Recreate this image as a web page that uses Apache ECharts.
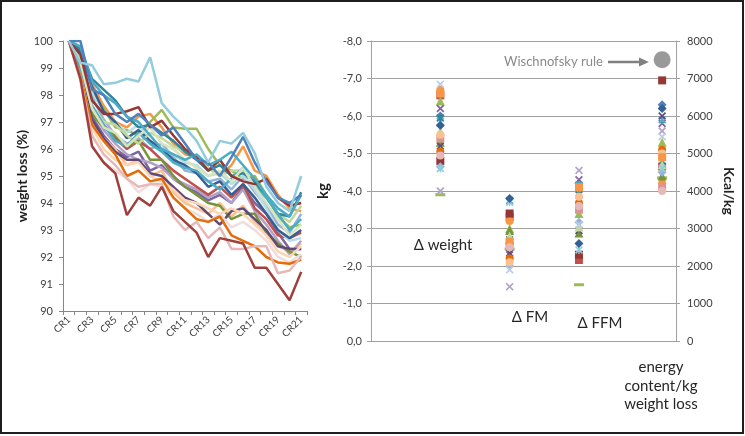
<!DOCTYPE html>
<html>
<head>
<meta charset="utf-8">
<script src="https://cdn.jsdelivr.net/npm/echarts@6/dist/echarts.min.js"></script>
<style>html,body{margin:0;padding:0;background:#fff;}#c{width:745px;height:436px;}</style>
</head>
<body>
<div id="c"></div>
<script>
// ---------- Left chart: weight loss (%) per CR ----------
const crCategories = ['CR1','CR2','CR3','CR4','CR5','CR6','CR7','CR8','CR9','CR10','CR11','CR12','CR13','CR14','CR15','CR16','CR17','CR18','CR19','CR20','CR21'];
const yTicksLeft = [90,91,92,93,94,95,96,97,98,99,100];

const line01 = [100,99.2,99.1,98.4,98.45,98.6,98.5,99.4,97.7,97.2,96.8,96.3,95.5,96.3,96.2,96.6,95.85,94.6,94.0,93.7,95.0];
const line02 = [100,98.6,96.1,95.5,95.1,93.55,94.2,93.9,94.6,93.7,93.3,92.9,92.0,92.7,92.6,92.5,91.6,91.6,91.0,90.4,91.45];
const line03 = [100,100,98.2,98.0,97.3,97.0,97.3,96.9,96.5,96.8,96.2,95.6,95.5,95.0,95.7,96.45,95.5,94.8,94.2,94.0,94.3];
const line04 = [100,99.3,98.4,97.6,97.0,96.8,97.2,97.3,96.8,96.2,95.8,95.7,95.3,95.0,95.4,96.1,95.2,95.0,94.3,93.8,93.7];
const line05 = [100,99.5,97.8,97.3,97.3,97.4,97.55,96.8,97.05,96.5,96.0,95.7,95.2,95.6,95.0,94.8,94.7,94.9,94.2,93.9,94.0];
const line06 = [100,99.4,98.0,97.5,96.8,96.7,96.5,97.0,97.45,96.8,96.75,96.75,96.0,95.4,95.2,94.9,95.0,94.3,93.5,93.1,93.2];
const line07 = [100,99.8,98.5,98.0,97.7,97.2,97.0,96.5,96.0,95.8,95.6,95.8,95.4,95.6,95.9,95.4,94.9,94.3,93.8,93.5,94.3];
const line08 = [100,99.0,97.6,96.9,96.3,96.1,96.6,96.2,95.9,95.5,95.3,95.2,94.8,94.5,94.9,95.3,94.6,94.2,93.6,93.0,93.4];
const line09 = [100,99.0,97.2,96.5,96.0,95.7,95.9,95.2,95.4,94.9,94.6,94.4,94.1,94.3,94.0,94.6,94.0,93.6,92.9,92.3,92.3];
const line10 = [100,99.2,97.5,96.8,96.6,96.1,96.5,96.8,96.2,96.0,95.6,95.3,95.0,95.2,94.8,95.3,94.6,94.0,93.4,92.8,93.2];
const line11 = [100,98.9,97.0,96.4,96.0,95.4,95.6,95.0,95.2,94.4,94.0,93.8,93.6,94.0,93.5,93.9,93.3,92.8,92.4,92.2,92.5];
const line12 = [100,98.7,96.9,96.3,95.8,95.0,95.2,94.8,94.9,94.2,93.8,93.4,93.3,93.5,92.8,92.6,92.4,92.0,91.8,91.75,91.9];
const line13 = [100,98.6,96.5,95.8,95.4,94.9,94.6,94.7,94.7,93.5,93.0,93.3,92.7,93.1,92.3,92.3,92.4,92.4,91.4,91.5,92.0];
const line14 = [100,99.4,97.9,97.1,96.5,96.2,96.4,96.0,96.2,95.7,95.2,95.1,94.8,94.9,94.5,95.0,94.4,93.9,93.2,92.9,93.6];
const line15 = [100,99.1,97.4,96.7,96.2,95.8,95.6,95.5,95.3,94.9,94.7,94.5,94.2,94.4,94.0,94.5,93.7,93.2,92.6,92.1,92.6];
const line16 = [100,99.0,97.6,96.9,96.4,96.0,96.3,96.0,95.6,95.2,94.9,94.6,94.3,94.6,94.2,94.7,93.8,93.4,92.8,92.7,92.9];
const line17 = [100,99.2,97.3,96.8,96.5,96.1,96.3,95.6,95.6,95.0,94.6,94.3,94.0,93.9,93.4,93.6,93.6,92.9,92.5,92.2,92.0];
const line18 = [100,99.5,98.1,97.4,97.0,96.6,96.9,96.3,96.0,95.8,95.5,95.4,95.0,95.1,94.7,95.0,94.5,93.8,93.0,92.6,92.7];
const line19 = [100,98.9,97.1,96.4,95.9,95.6,95.6,95.1,95.0,94.6,94.2,94.0,93.6,93.2,93.7,93.8,93.4,93.0,92.4,92.3,92.3];
const line20 = [100,99.6,98.3,97.4,97.0,96.4,96.7,96.3,96.0,95.6,95.4,95.1,94.6,94.8,94.3,94.7,94.2,93.6,93.0,92.7,93.0];
const line21 = [100,98.8,96.8,96.0,95.6,95.4,95.5,95.0,94.8,94.5,94.1,94.0,93.8,93.6,93.8,93.6,93.2,92.8,92.2,92.0,92.4];
const line22 = [100,98.5,96.1,95.5,95.2,94.9,94.4,94.7,94.6,94.2,93.8,93.6,93.3,93.6,93.1,93.3,93.0,92.6,92.0,91.8,92.1];
const line23 = [100,99.3,97.6,97.0,96.9,96.5,96.2,96.6,96.4,96.1,95.9,95.6,95.3,95.0,95.2,95.2,94.7,94.3,93.6,93.3,93.9];
const line24 = [100,99.7,98.6,98.2,97.8,97.2,96.8,96.9,96.6,96.3,95.9,95.6,95.2,95.4,95.0,95.1,94.8,94.2,93.6,93.5,94.4];
const allLines = [line04,line06,line09,line11,line14,line15,line16,line17,line18,line19,line20,line21,line22,line23,line24,line08,line10,line12,line13,line05,line07,line03,line02,line01];
const lineColors = ['#F79646','#9BBB59','#8064A2','#FAC090','#95B3D7','#B3A2C7','#C0504D','#77933C','#B7DEE8','#5F497A','#376092','#FCD5B5','#F2DCDB','#C3D69B','#31859C','#4BACC6','#D7E4BD','#E46C0A','#E6B9B8','#953735','#4BACC6','#4F81BD','#A0403C','#93CDDD'];

// ---------- Right chart: kg changes and energy content ----------
const kgTicks = [-8,-7,-6,-5,-4,-3,-2,-1,0];
const kcalTicks = [0,1000,2000,3000,4000,5000,6000,7000,8000];
const columnNames = ['Δ weight','Δ FM','Δ FFM','energy content/kg weight loss'];
const columnX = [1, 2, 3, 4.2];
const weightKg = [-6.0,-6.55,-6.4,-6.2,-5.85,-6.7,-3.9,-4.8,-5.3,-5.2,-5.95,-5.05,-4.65,-5.4,-5.6,-4.0,-4.6,-5.5,-5.75,-6.6,-4.95,-6.85];
const fmKg     = [-2.6,-3.3,-3.0,-2.3,-3.75,-3.2,-2.45,-3.4,-2.95,-2.35,-2.7,-2.2,-2.0,-2.55,-2.8,-1.45,-3.7,-2.1,-3.8,-2.65,-2.5,-1.9];
const ffmKg    = [-4.2,-2.16,-3.4,-4.3,-4.16,-4.03,-1.5,-2.3,-2.88,-2.95,-3.9,-3.68,-3.17,-3.5,-3.04,-4.55,-2.43,-3.85,-2.6,-4.1,-3.6,-3.1];
const energyKcal = [6300,4650,5300,5800,5900,4200,4350,6950,4400,6000,4800,5100,4500,4100,4700,5600,4600,5000,6200,4900,4000,5450];
const wishnofskyKcal = 7500;

const subjSymbols = ['diamond','rect','triangle','x','star','circle','dash','rect','triangle','x','star','circle','diamond','rect','triangle','x','star','circle','diamond','rect','circle','x'];
const subjColors  = ['#4F81BD','#C0504D','#9BBB59','#8064A2','#4BACC6','#F79646','#9BBB59','#953735','#77933C','#604A7B','#31859C','#E46C0A','#95B3D7','#D99694','#C3D69B','#B3A2C7','#93CDDD','#FAC090','#376092','#F79646','#E6B9B8','#B9CDE5'];

const X_PATH = 'path://M0,1.5L1.5,0L5,3.5L8.5,0L10,1.5L6.5,5L10,8.5L8.5,10L5,6.5L1.5,10L0,8.5L3.5,5Z';
const STAR_PATH = 'path://M0,1.5L1.5,0L5,3.5L8.5,0L10,1.5L6.5,5L10,8.5L8.5,10L5,6.5L1.5,10L0,8.5L3.5,5Z M4.2,0L5.8,0L5.8,10L4.2,10Z';
function symOf(s){
  if (s === 'x') return {symbol: X_PATH, symbolSize: 8};
  if (s === 'star') return {symbol: STAR_PATH, symbolSize: 8};
  if (s === 'dash') return {symbol: 'rect', symbolSize: [10,3]};
  if (s === 'triangle') return {symbol: 'triangle', symbolSize: 9};
  if (s === 'diamond') return {symbol: 'diamond', symbolSize: 9};
  return {symbol: s, symbolSize: 8};
}

const FONT = 'Lato, "Open Sans", sans-serif';
const series = [];
allLines.forEach((d, i) => {
  series.push({type:'line', xAxisIndex:0, yAxisIndex:0, data:d, symbol:'none', silent:true,
    lineStyle:{width:2.5, color:lineColors[i]}, z:2});
});
weightKg.forEach((w, i) => {
  const s = symOf(subjSymbols[i]);
  series.push(Object.assign({type:'scatter', xAxisIndex:1, yAxisIndex:1,
    data:[[columnX[0], w],[columnX[1], fmKg[i]],[columnX[2], ffmKg[i]]],
    itemStyle:{color:subjColors[i], opacity:1}, z:3}, s));
  series.push(Object.assign({type:'scatter', xAxisIndex:1, yAxisIndex:2,
    data:[[columnX[3], energyKcal[i]]],
    itemStyle:{color:subjColors[i], opacity:1}, z:3}, s));
});
series.push({type:'scatter', xAxisIndex:1, yAxisIndex:2, data:[[columnX[3], wishnofskyKcal]],
  symbol:'circle', symbolSize:17, itemStyle:{color:'#808080'}, z:3});

const labelStyle = {color:'#404040', fontSize:11, fontFamily:FONT};
const chart = echarts.init(document.getElementById('c'), null, {renderer:'canvas'});
chart.setOption({
  animation:false,
  backgroundColor:'#ffffff',
  grid:[
    {left:63, top:41, width:244, height:270},
    {left:371, top:41, width:305, height:300}
  ],
  xAxis:[
    {type:'category', gridIndex:0, data:crCategories, boundaryGap:true,
      axisLine:{lineStyle:{color:'#868686', width:1}},
      axisTick:{show:true, interval:0, length:4, lineStyle:{color:'#868686'}},
      axisLabel:Object.assign({}, labelStyle, {fontSize:10, rotate:45, interval:1, margin:7})},
    {type:'value', gridIndex:1, min:0, max:4.4, show:false}
  ],
  yAxis:[
    {type:'value', gridIndex:0, min:yTicksLeft[0], max:yTicksLeft[yTicksLeft.length-1], interval:1,
      name:'weight loss (%)', nameLocation:'middle', nameGap:31, nameRotate:90,
      nameTextStyle:{fontSize:14, fontWeight:'bold', color:'#222', fontFamily:FONT},
      axisLine:{show:true, lineStyle:{color:'#868686'}},
      axisTick:{show:true, length:4, lineStyle:{color:'#868686'}},
      splitLine:{show:false},
      axisLabel:Object.assign({}, labelStyle, {margin:10})},
    {type:'value', gridIndex:1, min:kgTicks[0], max:kgTicks[kgTicks.length-1], interval:1, inverse:true, position:'left',
      name:'kg', nameLocation:'middle', nameGap:40, nameRotate:90,
      nameTextStyle:{fontSize:15, fontWeight:'bold', color:'#222', fontFamily:FONT},
      axisLine:{show:true, lineStyle:{color:'#a0a0a0'}},
      axisTick:{show:true, length:4, lineStyle:{color:'#a0a0a0'}},
      splitLine:{show:true, lineStyle:{color:'#a0a0a0', width:1}},
      axisLabel:Object.assign({}, labelStyle, {margin:9, formatter:v => v.toFixed(1).replace('.', ',')})},
    {type:'value', gridIndex:1, min:kcalTicks[0], max:kcalTicks[kcalTicks.length-1], interval:1000, position:'right',
      name:'Kcal/kg', nameLocation:'middle', nameGap:46, nameRotate:-90,
      nameTextStyle:{fontSize:14, fontWeight:'bold', color:'#222', fontFamily:FONT},
      axisLine:{show:true, lineStyle:{color:'#a0a0a0'}},
      axisTick:{show:true, length:4, lineStyle:{color:'#a0a0a0'}},
      splitLine:{show:false},
      axisLabel:Object.assign({}, labelStyle, {margin:11, formatter:v => String(v)})}
  ],
  series: series,
  graphic:[
    {type:'rect', shape:{x:1, y:1, width:742, height:432}, style:{fill:'none', stroke:'#1e1e1e', lineWidth:2}, silent:true, z:100},
    {type:'text', x:443, y:245, style:{text:columnNames[0], font:'15px '+FONT, fill:'#262626', textAlign:'center', textVerticalAlign:'middle'}},
    {type:'text', x:530, y:317, style:{text:columnNames[1], font:'15px '+FONT, fill:'#262626', textAlign:'center', textVerticalAlign:'middle'}},
    {type:'text', x:600, y:323, style:{text:columnNames[2], font:'15px '+FONT, fill:'#262626', textAlign:'center', textVerticalAlign:'middle'}},
    {type:'text', x:661, y:386, style:{text:'energy\ncontent/kg\nweight loss', font:'15px '+FONT, lineHeight:18.5, fill:'#262626', textAlign:'center', textVerticalAlign:'middle'}},
    {type:'text', x:504, y:62, style:{text:'Wischnofsky rule', font:'13px '+FONT, fill:'#8a8a8a', textAlign:'left', textVerticalAlign:'middle'}},
    {type:'line', shape:{x1:608, y1:62, x2:641, y2:62}, style:{stroke:'#808080', lineWidth:2.5}},
    {type:'polygon', shape:{points:[[639,57.5],[649,62],[639,66.5]]}, style:{fill:'#808080'}}
  ]
});
</script>
</body>
</html>
